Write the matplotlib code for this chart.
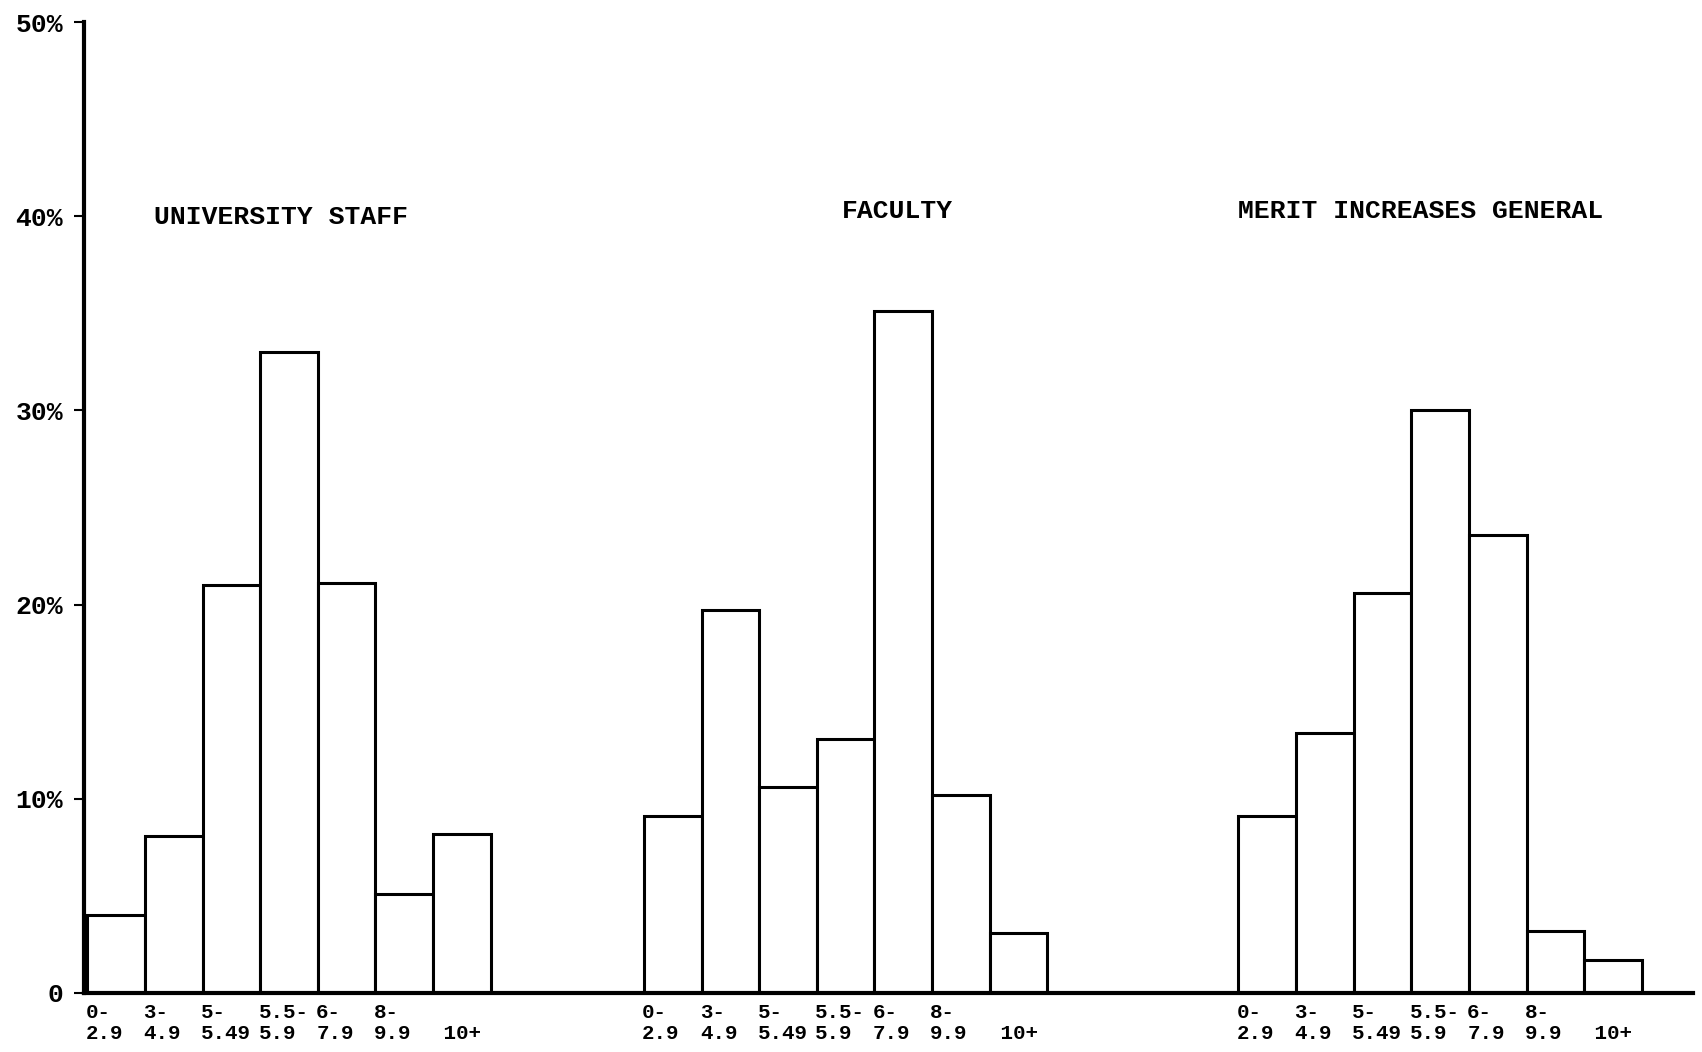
import matplotlib
matplotlib.use("Agg")
import matplotlib.pyplot as plt
import numpy as np

# ---- data ----
categories = ["0-\n2.9", "3-\n4.9", "5-\n5.49", "5.5-\n5.9", "6-\n7.9", "8-\n9.9", "\n 10+"]
groups = ["UNIVERSITY STAFF", "FACULTY", "MERIT INCREASES GENERAL"]
staff = [4.0, 8.1, 21.0, 33.0, 21.1, 5.1, 8.2]
faculty = [9.1, 19.7, 10.6, 13.1, 35.1, 10.2, 3.1]
merit = [9.1, 13.4, 20.6, 30.0, 23.6, 3.2, 1.7]
yticks = [0, 10, 20, 30, 40, 50]
ytick_labels = ["0", "10%", "20%", "30%", "40%", "50%"]

series = [staff, faculty, merit]
group_starts = [0.06, 9.72, 20.04]
title_pos = [(1.22, 39.97), (13.16, 40.28), (20.04, 40.28)]

fig = plt.figure(figsize=(17.02, 10.52), dpi=100)
ax = fig.add_axes([84 / 1702, 59 / 1052, (1693 - 84) / 1702, (993 - 22) / 1052])

font = "Liberation Mono"
xt_pos, xt_lab = [], []
for vals, start, name, (tx, ty) in zip(series, group_starts, groups, title_pos):
    lefts = start + np.arange(len(vals))
    ax.bar(lefts, vals, width=1.0, align="edge", facecolor="white",
           edgecolor="black", linewidth=2.2, zorder=2)
    ax.text(tx, ty, name, family=font, fontweight="bold", fontsize=19,
            ha="left", va="center")
    xt_pos.extend(lefts - 0.03)
    xt_lab.extend(categories)

ax.set_xlim(0, 27.93)
ax.set_ylim(0, 50)
ax.set_yticks(yticks)
ax.set_yticklabels(ytick_labels, family=font, fontweight="bold", fontsize=19)
ax.set_xticks(xt_pos)
ax.set_xticklabels(xt_lab, family=font, fontweight="bold", fontsize=15,
                   ha="left", linespacing=1.15)
ax.tick_params(axis="x", length=0, pad=7)
ax.tick_params(axis="y", length=7, width=1.5, pad=8, direction="out")
for s in ["top", "right"]:
    ax.spines[s].set_visible(False)
ax.spines["left"].set_linewidth(3)
ax.spines["bottom"].set_linewidth(3)
ax.spines["left"].set_zorder(3)

fig.savefig("out.png", dpi=100, facecolor="white")
